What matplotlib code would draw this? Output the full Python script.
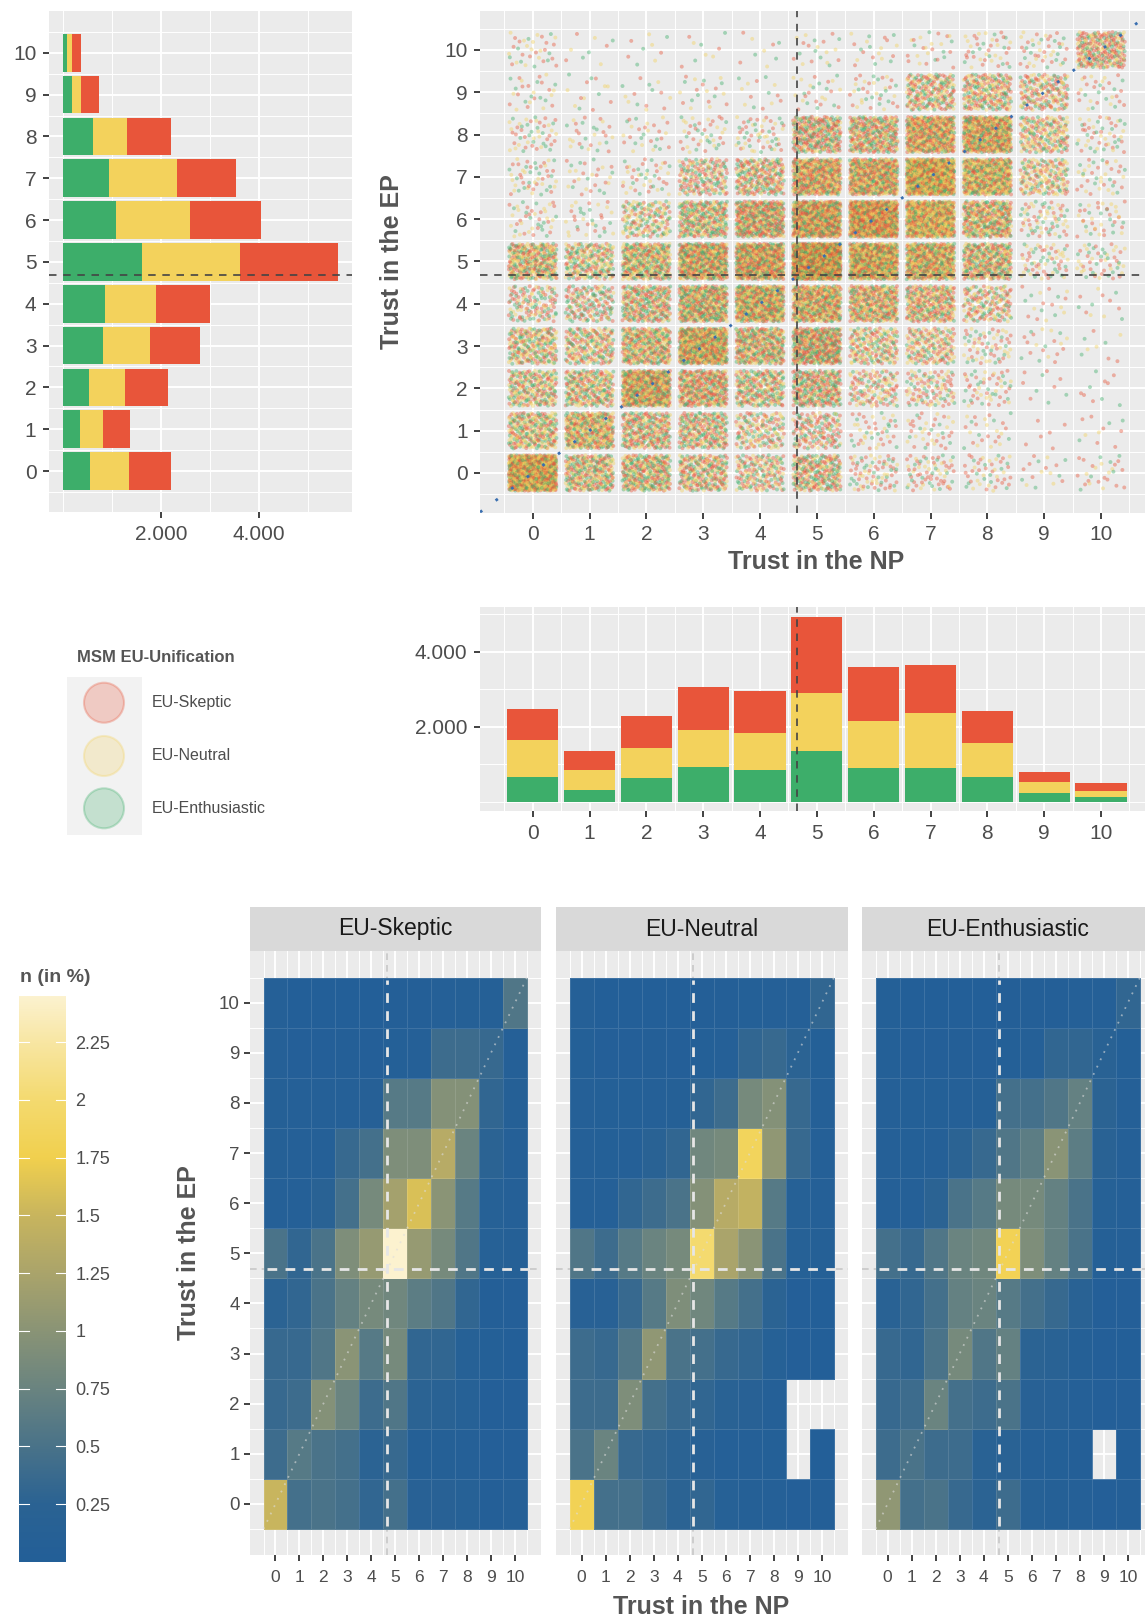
import numpy as np
import matplotlib
matplotlib.use("Agg")
import matplotlib.pyplot as plt
from matplotlib.colors import LinearSegmentedColormap, to_rgba
from matplotlib.patches import Circle, Rectangle
from matplotlib.ticker import FixedLocator

plt.rcParams["font.family"] = ["Liberation Sans", "DejaVu Sans"]

W, H = 1145, 1620

SCORES = list(range(11))
GROUPES = ["EU-Skeptic", "EU-Neutral", "EU-Enthusiastic"]
COULEURS = {"EU-Skeptic": "#E8553A", "EU-Neutral": "#F3D25C", "EU-Enthusiastic": "#3DAE6A"}

# effectifs par score de confiance dans le PE (0..10)
EP_ENTH = [565, 347, 544, 823, 864, 1612, 1088, 932, 612, 190, 88]
EP_NEUT = [775, 476, 728, 953, 1027, 2007, 1511, 1401, 687, 191, 102]
EP_SKEP = [857, 538, 871, 1013, 1116, 1986, 1435, 1198, 912, 347, 190]

# effectifs par score de confiance dans le parlement national (0..10)
NP_ENTH = [651, 320, 640, 917, 853, 1352, 899, 907, 667, 232, 133]
NP_NEUT = [994, 517, 800, 1003, 971, 1547, 1253, 1458, 906, 285, 152]
NP_SKEP = [835, 515, 845, 1147, 1136, 2026, 1448, 1272, 846, 283, 206]

MOY_NP, MOY_EP = 4.65, 4.68

nan = np.nan
# n (in %) : lignes = EP de 10 (haut) a 0 (bas), colonnes = NP 0..10
PCT_SKEP = [
    [0.06, 0.015, 0.015, 0.015, 0.015, 0.03, 0.03, 0.05, 0.08, 0.08, 0.55],
    [0.05, 0.02, 0.02, 0.03, 0.02, 0.04, 0.06, 0.40, 0.40, 0.35, 0.06],
    [0.08, 0.05, 0.05, 0.07, 0.09, 0.60, 0.60, 0.95, 0.95, 0.30, 0.08],
    [0.08, 0.05, 0.07, 0.35, 0.45, 0.90, 0.90, 1.35, 0.75, 0.25, 0.06],
    [0.07, 0.05, 0.20, 0.45, 0.85, 1.20, 1.60, 1.00, 0.60, 0.10, 0.07],
    [0.50, 0.30, 0.50, 0.90, 1.10, 2.45, 1.10, 0.85, 0.55, 0.10, 0.08],
    [0.25, 0.30, 0.50, 0.70, 0.85, 0.80, 0.65, 0.55, 0.30, 0.03, 0.02],
    [0.35, 0.35, 0.55, 1.00, 0.60, 0.85, 0.30, 0.30, 0.10, 0.04, 0.015],
    [0.35, 0.40, 0.95, 0.75, 0.40, 0.55, 0.25, 0.20, 0.10, 0.025, 0.025],
    [0.40, 0.60, 0.50, 0.45, 0.25, 0.35, 0.08, 0.08, 0.05, 0.025, 0.025],
    [1.50, 0.45, 0.50, 0.45, 0.30, 0.45, 0.15, 0.15, 0.10, 0.03, 0.06],
]
PCT_NEUT = [
    [0.05, 0.015, 0.015, 0.015, 0.015, 0.03, 0.03, 0.04, 0.06, 0.06, 0.30],
    [0.04, 0.02, 0.02, 0.03, 0.02, 0.04, 0.05, 0.30, 0.35, 0.25, 0.04],
    [0.07, 0.04, 0.04, 0.06, 0.08, 0.30, 0.40, 0.85, 0.95, 0.35, 0.07],
    [0.07, 0.04, 0.06, 0.20, 0.30, 0.80, 0.85, 1.85, 1.05, 0.35, 0.06],
    [0.07, 0.05, 0.30, 0.40, 0.50, 0.95, 1.35, 1.45, 0.60, 0.10, 0.06],
    [0.55, 0.40, 0.60, 0.75, 0.85, 2.00, 1.25, 1.00, 0.50, 0.10, 0.08],
    [0.15, 0.15, 0.35, 0.60, 0.90, 0.80, 0.60, 0.45, 0.25, 0.025, 0.015],
    [0.40, 0.35, 0.55, 1.05, 0.50, 0.45, 0.35, 0.30, 0.10, 0.025, 0.015],
    [0.40, 0.40, 0.90, 0.45, 0.35, 0.30, 0.20, 0.15, 0.07, nan, nan],
    [0.50, 0.75, 0.35, 0.30, 0.25, 0.15, 0.06, 0.06, 0.04, nan, 0.01],
    [1.80, 0.45, 0.45, 0.35, 0.25, 0.30, 0.10, 0.08, 0.06, 0.02, 0.03],
]
PCT_ENTH = [
    [0.04, 0.015, 0.015, 0.015, 0.015, 0.03, 0.03, 0.03, 0.05, 0.06, 0.30],
    [0.04, 0.02, 0.02, 0.03, 0.02, 0.04, 0.05, 0.30, 0.30, 0.20, 0.04],
    [0.07, 0.04, 0.04, 0.06, 0.08, 0.45, 0.45, 0.55, 0.70, 0.25, 0.07],
    [0.07, 0.04, 0.06, 0.25, 0.35, 0.55, 0.65, 1.00, 0.65, 0.20, 0.05],
    [0.06, 0.05, 0.25, 0.50, 0.60, 0.85, 0.85, 0.70, 0.50, 0.10, 0.05],
    [0.45, 0.35, 0.55, 0.75, 0.80, 1.80, 0.90, 0.70, 0.50, 0.08, 0.07],
    [0.20, 0.30, 0.45, 0.70, 0.75, 0.60, 0.45, 0.35, 0.20, 0.025, 0.02],
    [0.35, 0.30, 0.50, 0.85, 0.55, 0.70, 0.25, 0.20, 0.08, 0.025, 0.015],
    [0.35, 0.40, 0.75, 0.45, 0.40, 0.50, 0.15, 0.12, 0.07, 0.02, 0.02],
    [0.40, 0.50, 0.40, 0.40, 0.20, 0.20, 0.06, 0.04, 0.03, nan, 0.015],
    [1.05, 0.45, 0.50, 0.35, 0.25, 0.40, 0.10, 0.08, 0.06, 0.025, 0.03],
]

CB_TICKS = [0.25, 0.5, 0.75, 1, 1.25, 1.5, 1.75, 2, 2.25]
CB_MAX = 2.45
# degrade de la legende (valeur, couleur)
STOPS = [(0.0, "#235f98"), (0.25, "#2b6393"), (0.5, "#4a7389"), (0.75, "#6a8480"),
         (1.0, "#8a9476"), (1.25, "#aaa46b"), (1.5, "#c8b55e"), (1.75, "#f1d04e"),
         (2.0, "#f4da6f"), (2.25, "#f8e6a2"), (2.45, "#fcf2cf")]
CMAP = LinearSegmentedColormap.from_list("npct", [(v / CB_MAX, c) for v, c in STOPS])

GRIS_TXT = "#4D4D4D"
FOND = "#EBEBEB"

fig = plt.figure(figsize=(W / 100, H / 100), dpi=100)


def boite(l, t, r, b):
    return fig.add_axes([l / W, 1 - b / H, (r - l) / W, (b - t) / H])


def style_gg(ax, size=15):
    ax.set_facecolor(FOND)
    for s in ax.spines.values():
        s.set_visible(False)
    ax.set_axisbelow(True)
    ax.tick_params(which="major", colors="#333333", labelcolor=GRIS_TXT,
                   length=4.5, width=1.3, labelsize=size, pad=4.5)
    ax.tick_params(which="minor", length=0)
    ax.grid(which="major", color="white", lw=1.4)
    ax.grid(which="minor", color="white", lw=0.7)


def pointille(ax, vertical, val):
    f = ax.axvline if vertical else ax.axhline
    f(val, color="#444444", lw=1.2, ls=(0, (4.5, 4)), zorder=4)


def halton(k, b):
    """suite de van der Corput en base b (jitter deterministe)"""
    k = np.array(k, dtype=int)
    out = np.zeros(k.shape)
    f = 1.0 / b
    while np.any(k > 0):
        out += f * (k % b)
        k //= b
        f /= b
    return out


ep_tot = [EP_ENTH, EP_NEUT, EP_SKEP]
np_tot = [NP_ENTH, NP_NEUT, NP_SKEP]
ordre_pile = ["EU-Enthusiastic", "EU-Neutral", "EU-Skeptic"]

# ---------------------------------------------------------------------------
# barres horizontales : confiance PE
# ---------------------------------------------------------------------------
ax = boite(49, 11, 352, 512)
style_gg(ax)
gauche = np.zeros(11)
for grp, vals in zip(ordre_pile, ep_tot):
    ax.barh(SCORES, vals, left=gauche, height=0.9, color=COULEURS[grp], zorder=2)
    gauche += np.array(vals)
ax.set_xlim(-280, 5890)
ax.set_ylim(-0.98, 11.0)
ax.set_yticks(SCORES)
ax.yaxis.set_minor_locator(FixedLocator(np.arange(-0.5, 11, 1)))
ax.set_xticks([2000, 4000], ["2.000", "4.000"])
ax.xaxis.set_minor_locator(FixedLocator([0, 1000, 3000, 5000]))
pointille(ax, False, MOY_EP)

# ---------------------------------------------------------------------------
# nuage de points (jitter deterministe)
# ---------------------------------------------------------------------------
ax = boite(480, 11, 1153, 513)
style_gg(ax)
tot_grp = {"EU-Enthusiastic": sum(NP_ENTH), "EU-Neutral": sum(NP_NEUT), "EU-Skeptic": sum(NP_SKEP)}
pct_grp = {"EU-Skeptic": np.flipud(np.array(PCT_SKEP)),
           "EU-Neutral": np.flipud(np.array(PCT_NEUT)),
           "EU-Enthusiastic": np.flipud(np.array(PCT_ENTH))}
nb = {g: np.nan_to_num(pct_grp[g] / np.nansum(pct_grp[g]) * tot_grp[g]).round().astype(int)
      for g in GROUPES}
xs, ys, cols = [], [], []
for e in SCORES:
    for n_ in SCORES:
        etiquettes = []
        for g in GROUPES:
            etiquettes += [COULEURS[g]] * nb[g][e, n_]
        n = len(etiquettes)
        if n == 0:
            continue
        k = np.arange(n) + 1 + 3001 * (e * 11 + n_)
        melange = np.argsort(halton(k, 5))
        xs.append(n_ + (halton(k, 2) - 0.5) * 0.84)
        ys.append(e + (halton(k, 3) - 0.5) * 0.84)
        cols += [etiquettes[i] for i in np.argsort(melange)]
ax.scatter(np.concatenate(xs), np.concatenate(ys), s=8, c=cols, alpha=0.42,
           linewidths=0, zorder=2)
ax.axline((0, 0), (1, 1), color="#3a6fb0", lw=2, ls=(0, (1, 6)), zorder=3)
ax.set_xlim(-0.927, 10.915)
ax.set_ylim(-0.946, 10.92)
ax.set_xticks(SCORES)
ax.set_yticks(SCORES)
ax.xaxis.set_minor_locator(FixedLocator(np.arange(-0.5, 11, 1)))
ax.yaxis.set_minor_locator(FixedLocator(np.arange(-0.5, 11, 1)))
pointille(ax, True, MOY_NP)
pointille(ax, False, MOY_EP)

# ---------------------------------------------------------------------------
# histogramme : confiance parlement national
# ---------------------------------------------------------------------------
ax = boite(480, 607, 1153, 811)
style_gg(ax)
bas = np.zeros(11)
for grp, vals in zip(ordre_pile, np_tot):
    ax.bar(SCORES, vals, bottom=bas, width=0.9, color=COULEURS[grp], zorder=2)
    bas += np.array(vals)
ax.set_xlim(-0.927, 10.915)
ax.set_ylim(-248, 5192)
ax.set_xticks(SCORES)
ax.xaxis.set_minor_locator(FixedLocator(np.arange(-0.5, 11, 1)))
ax.set_yticks([2000, 4000], ["2.000", "4.000"])
ax.yaxis.set_minor_locator(FixedLocator([0, 1000, 3000, 5000]))
pointille(ax, True, MOY_NP)

# ---------------------------------------------------------------------------
# cartes de chaleur par groupe
# ---------------------------------------------------------------------------
panneaux = [(250, 540.5), (556, 847.5), (862, 1153.5)]
bords = np.arange(-0.5, 11, 1)
for i, (g, (l, r)) in enumerate(zip(GROUPES, panneaux)):
    st = boite(l, 907, r, 951)
    st.set_facecolor("#D9D9D9")
    st.set_xticks([])
    st.set_yticks([])
    for s in st.spines.values():
        s.set_visible(False)
    st.text(0.5, 0.5, g, ha="center", va="center", fontsize=16.5, color="#1A1A1A",
            transform=st.transAxes)

    ax = boite(l, 951, r, 1555)
    style_gg(ax, size=12.5)
    ax.axvline(MOY_NP, color="#C8C8C8", lw=1.2, ls=(0, (4, 3)), zorder=1.5)
    ax.axhline(MOY_EP, color="#C8C8C8", lw=1.2, ls=(0, (4, 3)), zorder=1.5)
    ax.pcolormesh(bords, bords, np.ma.masked_invalid(pct_grp[g]), cmap=CMAP,
                  vmin=0, vmax=CB_MAX, edgecolors=(1, 1, 1, 0.12), linewidth=0.5, zorder=2)
    ax.plot([-0.5, 10.5], [-0.5, 10.5], color="#dddddd", alpha=0.6, lw=1.3,
            ls=(0, (1, 3.5)), zorder=3)
    ax.plot([MOY_NP, MOY_NP], [-0.45, 10.45], color="#E6E6E6", lw=2, ls=(0, (3.5, 3)), zorder=4)
    ax.plot([-0.35, 10.6], [MOY_EP, MOY_EP], color="#E6E6E6", lw=2, ls=(0, (3.5, 3)), zorder=4)
    ax.set_xlim(-1.064, 11.064)
    ax.set_ylim(-1.019, 11.03)
    ax.set_xticks(SCORES)
    ax.set_yticks(SCORES)
    ax.xaxis.set_minor_locator(FixedLocator(bords))
    ax.yaxis.set_minor_locator(FixedLocator(bords))
    ax.tick_params(axis="y", labelsize=13.5, pad=3)
    ax.tick_params(axis="x", pad=6)
    if i > 0:
        ax.tick_params(axis="y", length=0, labelleft=False)

# barre de couleur
cb = boite(19.3, 996, 65.7, 1562)
cb.imshow(np.linspace(0, CB_MAX, 256).reshape(-1, 1), cmap=CMAP, vmin=0, vmax=CB_MAX,
          origin="lower", aspect="auto", extent=(0, 1, 0, CB_MAX))
for v in CB_TICKS:
    cb.plot([0, 0.2], [v, v], color="white", lw=0.8)
    cb.plot([0.8, 1], [v, v], color="white", lw=0.8)
cb.set_xlim(0, 1)
cb.set_ylim(0, CB_MAX)
cb.set_xticks([])
cb.yaxis.tick_right()
cb.set_yticks(CB_TICKS, [f"{v:g}" for v in CB_TICKS])
cb.tick_params(axis="y", length=0, pad=7, labelsize=13, labelcolor=GRIS_TXT)
for s in cb.spines.values():
    s.set_visible(False)

# ---------------------------------------------------------------------------
# textes et legende (coordonnees en pixels)
# ---------------------------------------------------------------------------
ov = fig.add_axes([0, 0, 1, 1])
ov.set_xlim(0, W)
ov.set_ylim(H, 0)
ov.axis("off")
titre = dict(fontsize=18, fontweight="bold", color="#555555", ha="center", va="center")
ov.text(392, 262, "Trust in the EP", rotation=90, **titre)
ov.text(816, 562, "Trust in the NP", **titre)
ov.text(189, 1253, "Trust in the EP", rotation=90, **titre)
ov.text(701, 1607, "Trust in the NP", **titre)
ov.text(20, 977, "n (in %)", fontsize=14, fontweight="bold", color="#555555", va="center")

ov.text(77, 658, "MSM EU-Unification", fontsize=12, fontweight="bold", color="#555555",
        va="center")
ov.add_patch(Rectangle((66.7, 676.7), 75, 158.3, facecolor="#F2F2F2", edgecolor="none"))
for g, yc in zip(GROUPES, [702.7, 756, 808.3]):
    ov.add_patch(Circle((104, yc), 20, facecolor=to_rgba(COULEURS[g], 0.25),
                        edgecolor=to_rgba(COULEURS[g], 0.3), lw=1.5))
    ov.text(151.7, yc, g, fontsize=11.5, color=GRIS_TXT, va="center")

fig.savefig("out.png", dpi=100)
